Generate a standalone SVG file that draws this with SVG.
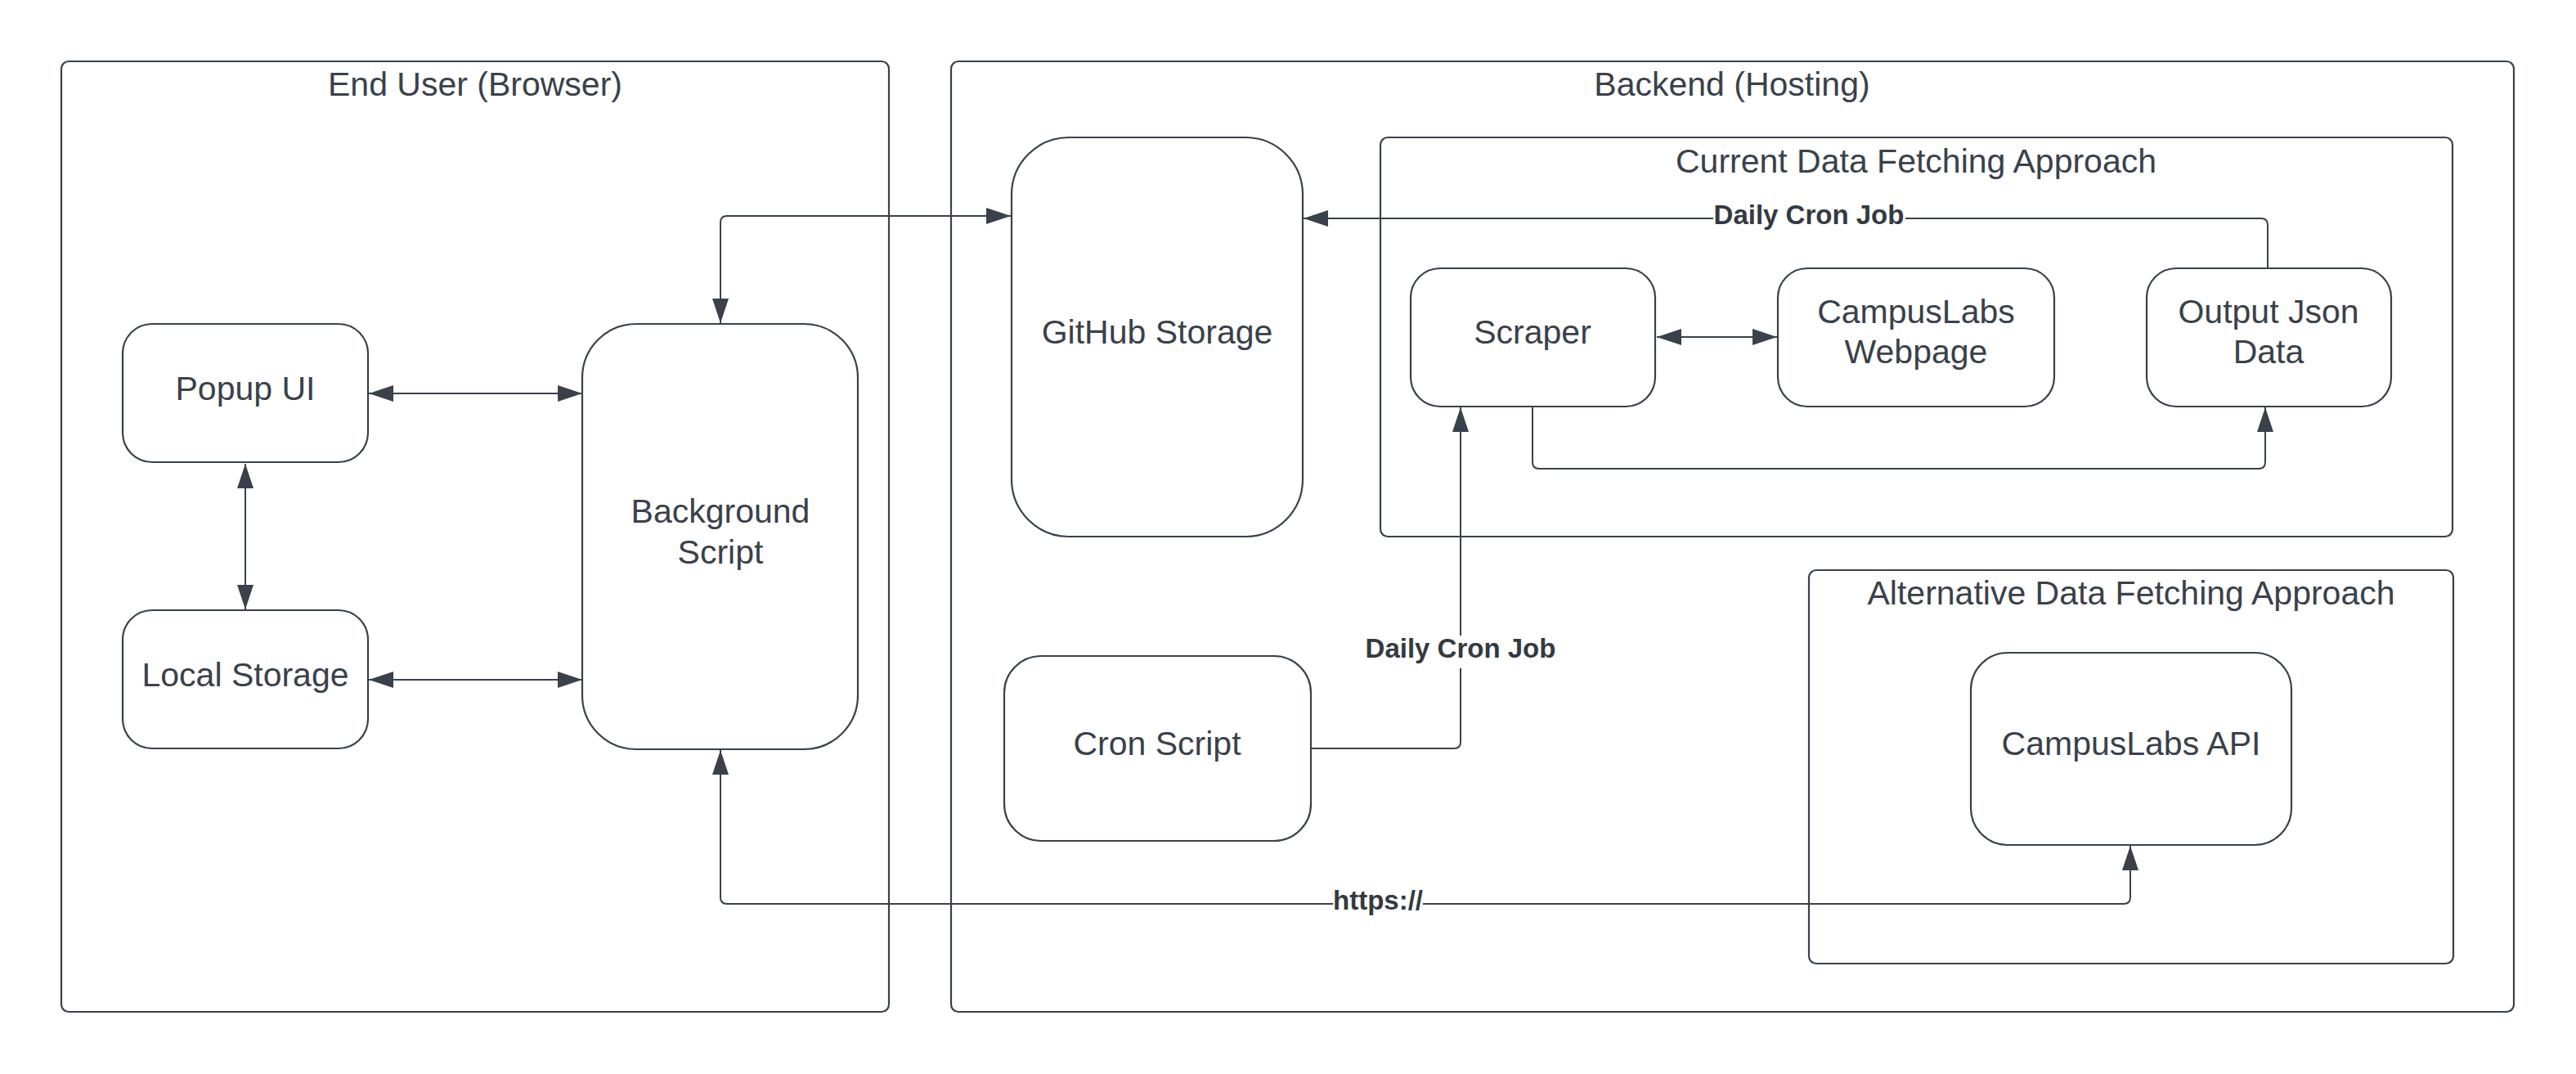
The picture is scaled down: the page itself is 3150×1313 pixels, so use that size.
<svg xmlns="http://www.w3.org/2000/svg" width="3150" height="1313" viewBox="0 0 3150 1313">
<style>
.c{fill:none;stroke:#3a414a;stroke-width:2.2}
.n{fill:#ffffff;stroke:#3a414a;stroke-width:2.2}
.t{font-family:"Liberation Sans",Arial,sans-serif;font-size:41px;fill:#3a414a;text-anchor:middle}
.l{font-family:"Liberation Sans",Arial,sans-serif;font-size:33px;font-weight:bold;fill:#333a42;text-anchor:middle}
.e{fill:none;stroke:#3a414a;stroke-width:2}
.bg{fill:#ffffff;stroke:none}
</style>
<defs>
<marker id="a" viewBox="0 0 30 20" refX="30" refY="10" markerWidth="30" markerHeight="20" markerUnits="userSpaceOnUse" orient="auto-start-reverse">
<path d="M0,0 L30,10 L0,20 z" fill="#3a414a"/>
</marker>
</defs>
<rect width="3150" height="1313" fill="#ffffff"/>
<g id="containers">
<g id="end-user"><rect class="c" x="75" y="75" width="1012" height="1162" rx="9"/><text class="t" x="581" y="117">End User (Browser)</text></g>
<g id="backend"><rect class="c" x="1163" y="75" width="1911" height="1162" rx="9"/><text class="t" x="2118" y="117">Backend (Hosting)</text></g>
<g id="current"><rect class="c" x="1688" y="168" width="1311" height="488" rx="9"/><text class="t" x="2343" y="211">Current Data Fetching Approach</text></g>
<g id="alternative"><rect class="c" x="2212" y="697" width="788" height="481" rx="9"/><text class="t" x="2606" y="739">Alternative Data Fetching Approach</text></g>
</g>
<g id="popup-ui"><rect class="n" x="150" y="396" width="300" height="169" rx="36"/><text class="t" x="300" y="489">Popup UI</text></g>
<g id="local-storage"><rect class="n" x="150" y="746" width="300" height="169" rx="36"/><text class="t" x="300" y="839">Local Storage</text></g>
<g id="background-script"><rect class="n" x="712" y="396" width="337" height="520" rx="66"/><text class="t" x="881" y="639">Background</text><text class="t" x="881" y="689">Script</text></g>
<g id="github-storage"><rect class="n" x="1237" y="168" width="356" height="488" rx="70"/><text class="t" x="1415" y="420">GitHub Storage</text></g>
<g id="cron-script"><rect class="n" x="1228" y="802" width="375" height="226" rx="45"/><text class="t" x="1415" y="923">Cron Script</text></g>
<g id="scraper"><rect class="n" x="1725" y="328" width="299" height="169" rx="36"/><text class="t" x="1874" y="420">Scraper</text></g>
<g id="campuslabs-webpage"><rect class="n" x="2174" y="328" width="338" height="169" rx="36"/><text class="t" x="2343" y="395">CampusLabs</text><text class="t" x="2343" y="444">Webpage</text></g>
<g id="output-json"><rect class="n" x="2625" y="328" width="299" height="169" rx="36"/><text class="t" x="2774" y="395">Output Json</text><text class="t" x="2774" y="444">Data</text></g>
<g id="campuslabs-api"><rect class="n" x="2410" y="798" width="392" height="235" rx="45"/><text class="t" x="2606" y="923">CampusLabs API</text></g>
<g id="connectors">
<path class="e" d="M451,481 H712" marker-start="url(#a)" marker-end="url(#a)"/>
<path class="e" d="M451,831 H712" marker-start="url(#a)" marker-end="url(#a)"/>
<path class="e" d="M300,567 V745" marker-start="url(#a)" marker-end="url(#a)"/>
<path class="e" d="M881,395 V272 Q881,264 889,264 H1236" marker-start="url(#a)" marker-end="url(#a)"/>
<path class="e" d="M2773,328 V275 Q2773,267 2765,267 H1594" marker-end="url(#a)"/>
<path class="e" d="M2026,412 H2173" marker-start="url(#a)" marker-end="url(#a)"/>
<path class="e" d="M1874,497 V565 Q1874,573 1882,573 H2762 Q2770,573 2770,565 V498" marker-end="url(#a)"/>
<path class="e" d="M1603,915 H1778 Q1786,915 1786,907 V498" marker-end="url(#a)"/>
<path class="e" d="M881,917 V1097 Q881,1105 889,1105 H2597 Q2605,1105 2605,1097 V1034" marker-start="url(#a)" marker-end="url(#a)"/>
<rect class="bg" x="2095" y="251" width="235" height="32"/>
<text class="l" x="2212" y="274">Daily Cron Job</text>
<rect class="bg" x="1668" y="777" width="236" height="40"/>
<text class="l" x="1786" y="804">Daily Cron Job</text>
<rect class="bg" x="1630" y="1089" width="110" height="32"/>
<text class="l" x="1685" y="1112">https://</text>
</g>
</svg>
